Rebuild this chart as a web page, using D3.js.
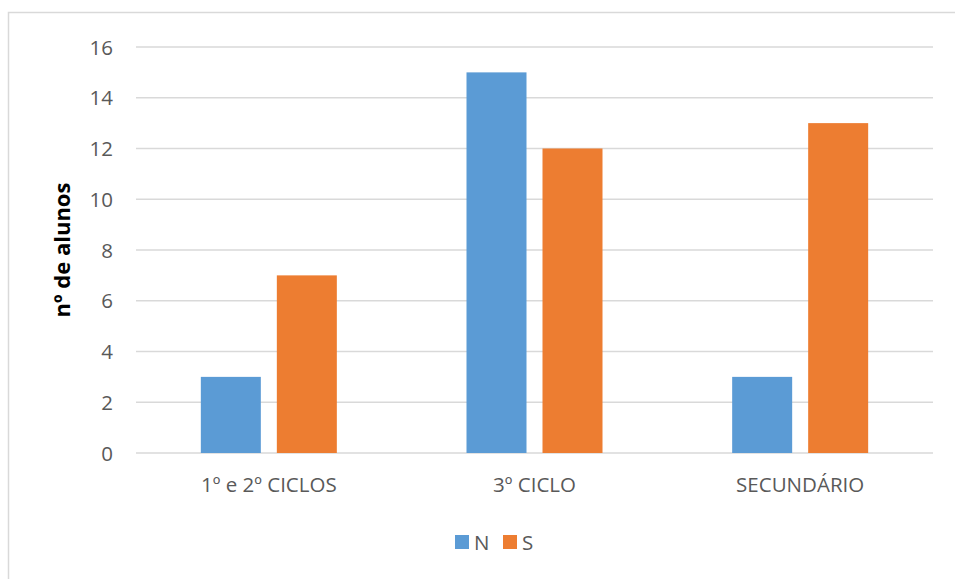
<!DOCTYPE html>
<html><head><meta charset="utf-8">
<script src="https://cdn.jsdelivr.net/npm/d3@7"></script>
<style>body{margin:0;background:#fff}svg{display:block}</style>
</head><body>
<svg id="c" width="955" height="579"></svg>
<script>
const categories = ["1º e 2º CICLOS", "3º CICLO", "SECUNDÁRIO"];
const seriesNames = ["N", "S"];
const valuesN = [3, 15, 3];
const valuesS = [7, 12, 13];
const yTicks = [0, 2, 4, 6, 8, 10, 12, 14, 16];
const colors = ["#5B9BD5", "#ED7D31"];
const font = "'Open Sans', sans-serif";

const svg = d3.select("#c");
const plotLeft = 136, plotRight = 933, plotTop = 47, plotBottom = 453;

svg.append("path").attr("d", "M8.5,579 V12.5 H955").attr("fill","none").attr("stroke","#d9d9d9").attr("stroke-width",1.5);

const y = d3.scaleLinear().domain([0,16]).range([plotBottom, plotTop]);
const x0 = d3.scaleBand().domain(categories).range([plotLeft, plotRight]);
const barW = 60, gap = 16;

svg.append("g").selectAll("line").data(yTicks).join("line")
  .attr("x1", plotLeft).attr("x2", plotRight)
  .attr("y1", d => y(d)).attr("y2", d => y(d))
  .attr("stroke", "#d9d9d9").attr("stroke-width", 1.5);

const yAxis = d3.axisLeft(y).tickValues(yTicks).tickSize(0).tickPadding(0);
const ya = svg.append("g").attr("transform", "translate(113,0)").call(yAxis);
ya.select(".domain").remove();
ya.selectAll("text").attr("font-family", font).attr("font-size", 20.5).attr("fill", "#595959").attr("dy","0.35em");

const data = categories.map((c,i) => ({c, vals:[valuesN[i], valuesS[i]]}));
data.forEach(d => {
  const cx = x0(d.c) + x0.bandwidth()/2;
  d.vals.forEach((v,j) => {
    const bx = j === 0 ? cx - gap/2 - barW : cx + gap/2;
    svg.append("rect").attr("x", bx).attr("width", barW)
      .attr("y", y(v)).attr("height", y(0)-y(v)).attr("fill", colors[j]);
  });
});

const xAxis = d3.axisBottom(x0).tickSize(0).tickPadding(0);
const xa = svg.append("g").attr("transform", `translate(0,${plotBottom})`).call(xAxis);
xa.select(".domain").remove();
xa.selectAll("text").attr("font-family", font).attr("font-size", 20.5).attr("fill", "#595959").attr("dy", null).attr("y", 39);

svg.append("text").attr("transform", "translate(70,250) rotate(-90)")
  .attr("text-anchor","middle").attr("font-family", font).attr("font-size", 22)
  .attr("font-weight","bold").attr("fill","#000").text("nº de alunos");

const legX = [455, 503];
seriesNames.forEach((s,i) => {
  svg.append("rect").attr("x", legX[i]).attr("y", 535).attr("width", 14).attr("height", 14).attr("fill", colors[i]);
  svg.append("text").attr("x", legX[i]+19).attr("y", 550).attr("font-family", font).attr("font-size", 20.5).attr("fill","#595959").text(s);
});
</script>
</body></html>
